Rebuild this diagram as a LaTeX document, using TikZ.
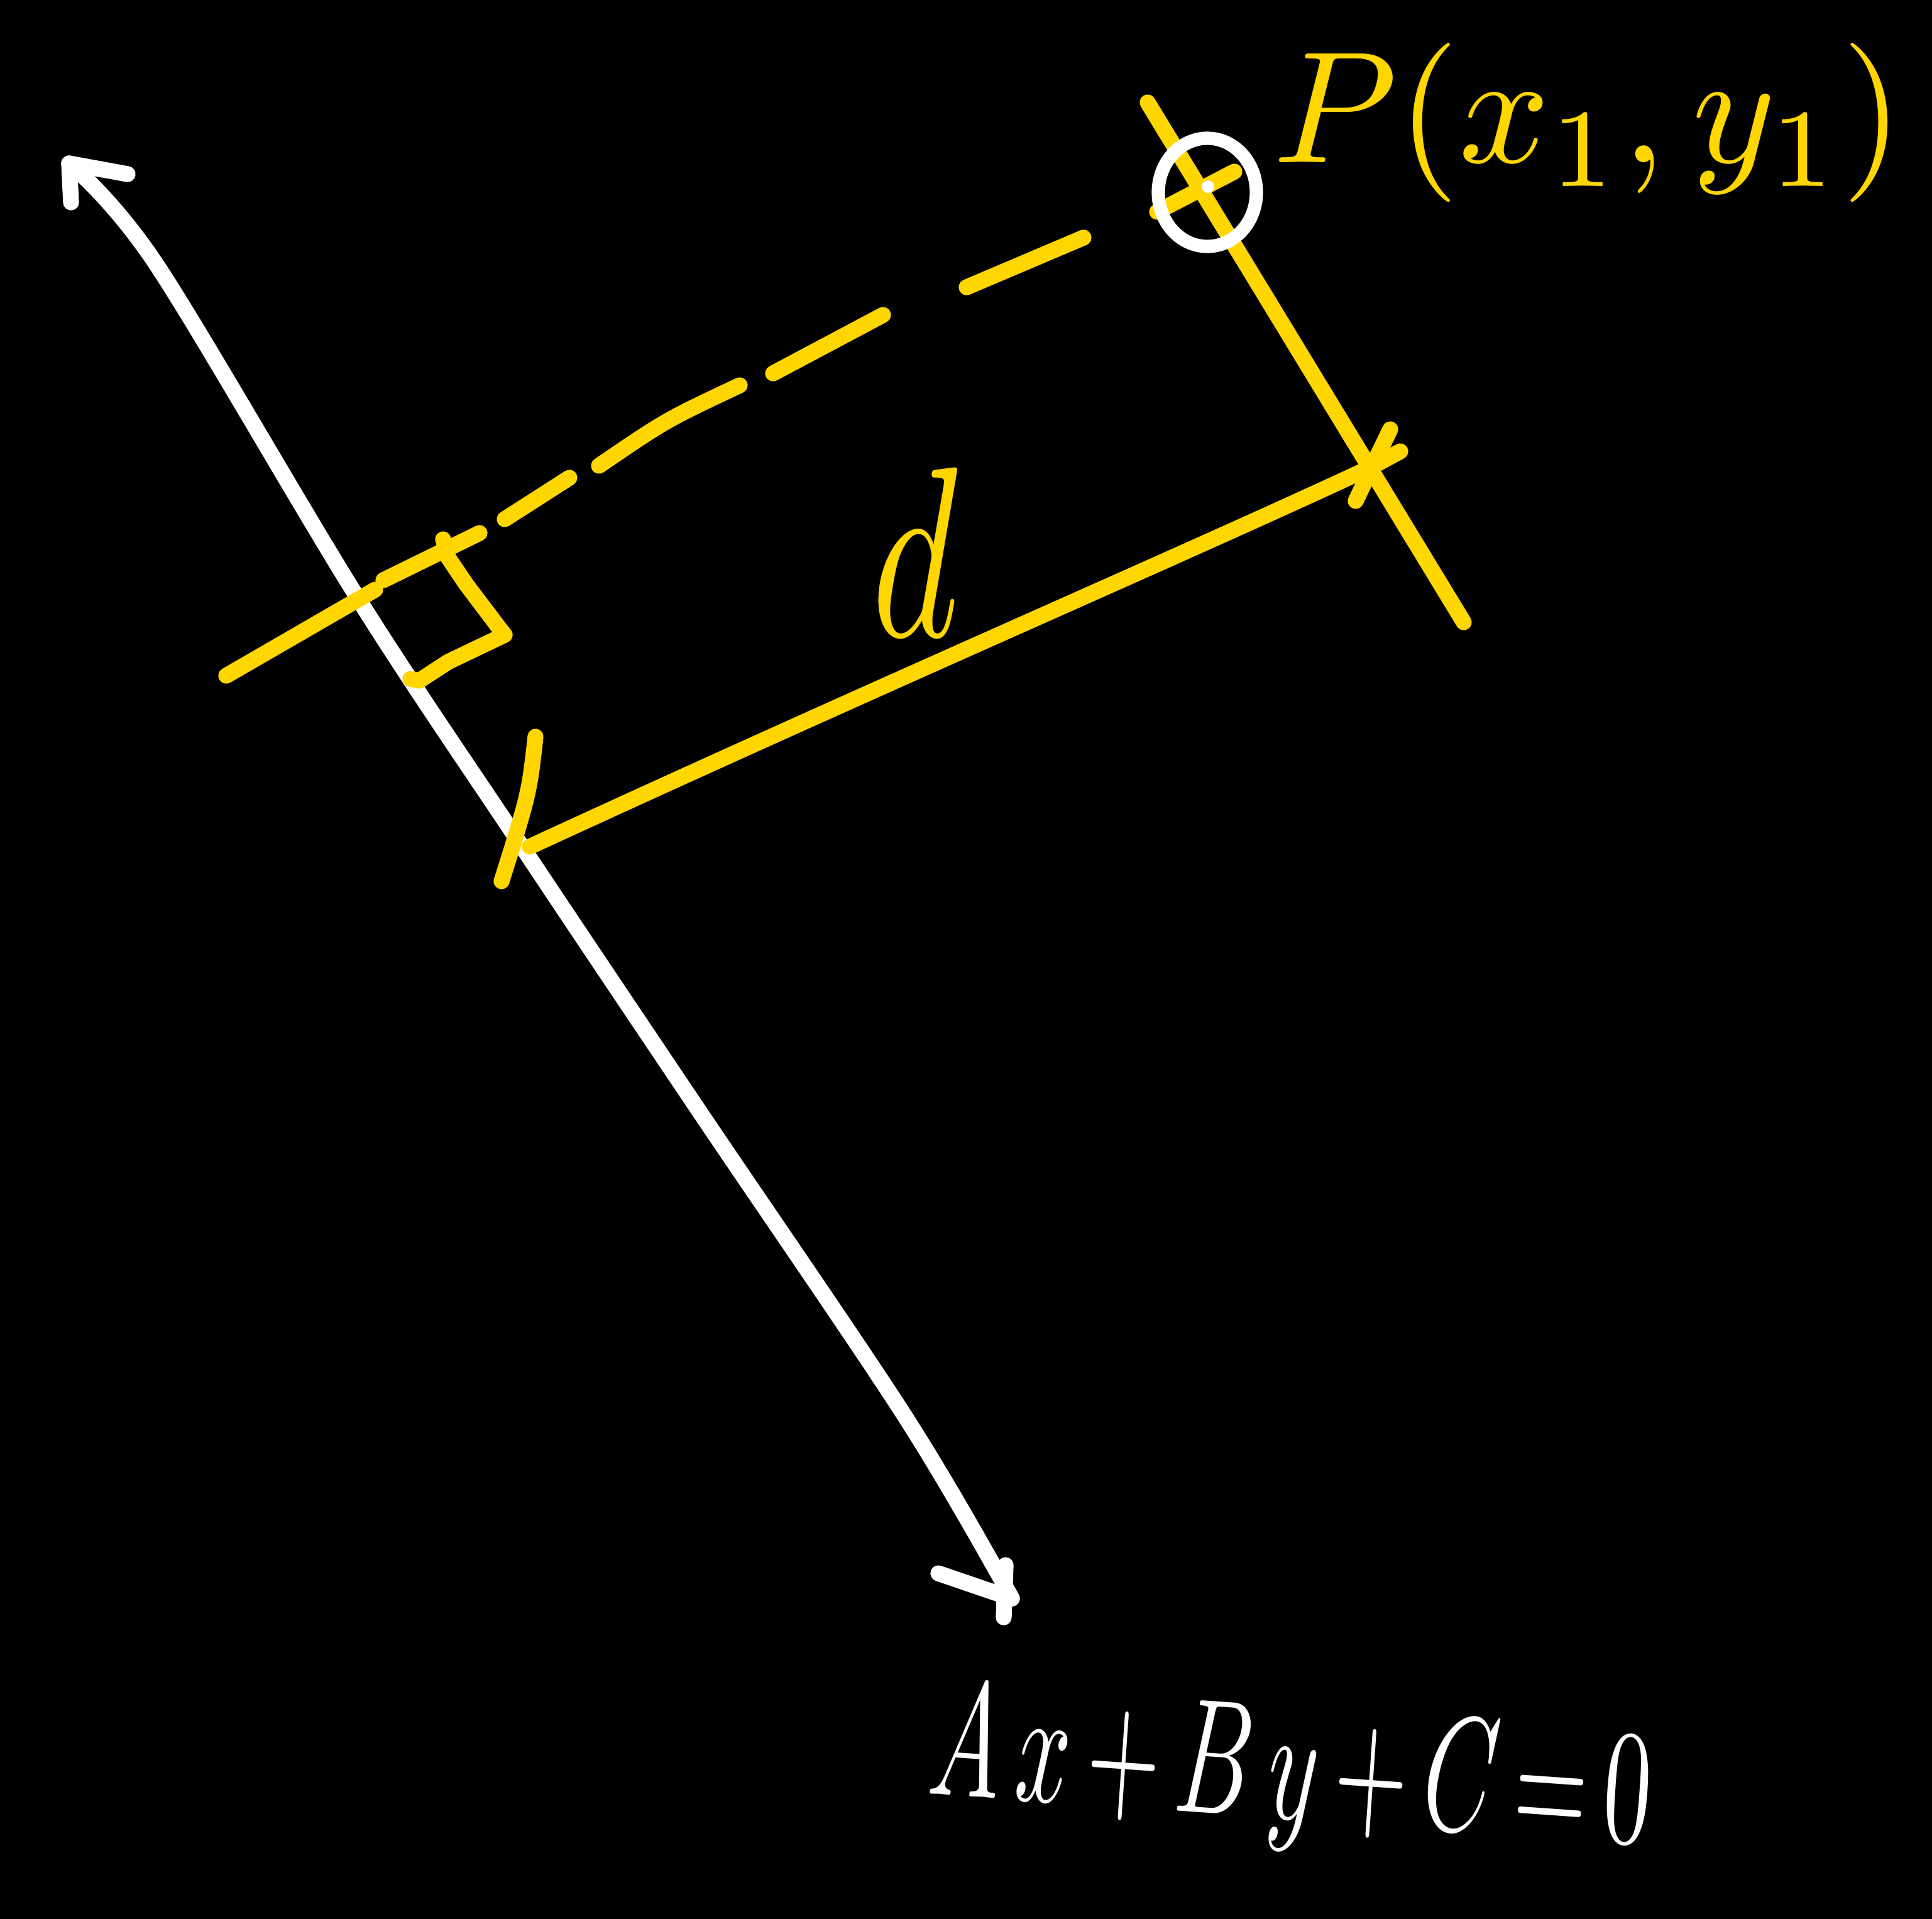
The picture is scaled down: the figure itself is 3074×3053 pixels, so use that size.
\documentclass[tikz,border=0pt]{standalone}
\usepackage{graphicx}
\definecolor{chalkyellow}{RGB}{255,214,0}
\begin{document}
\begin{tikzpicture}[x={(0.01cm,0)}, y={(0,-0.01cm)},
  pen/.style={line width=7.2pt, line cap=round, line join=round},
  wpen/.style={pen, white},
  ypen/.style={pen, chalkyellow}]
\fill[black] (0,0) rectangle (3074,3053);
\useasboundingbox (0,0) rectangle (3074,3053);

% key points
\coordinate (Ltop) at (110,260);
\coordinate (Lbot) at (1610,2543);
\coordinate (P) at (1922,297);
\coordinate (Dl) at (843,1347);
\coordinate (Dr) at (2182,743);

% the white line Ax+By+C=0
\draw[wpen] plot[smooth, tension=0.55] coordinates {(Ltop) (249,421) (569,951) (828,1343) (1110,1764) (1441,2255) (Lbot)};
\draw[wpen] (203,277) -- (Ltop) -- (113,322);
\draw[wpen] (1493,2503) -- (Lbot);
\draw[wpen] (1600,2490) -- (1597,2573);

% yellow line through P, parallel to the white line
\draw[ypen] (1826,163) -- (2329,990);

% dashed perpendicular from P to the line
\draw[ypen] (1841,337) -- (1964,273);
\draw[ypen] (1724,378) -- (1538,457);
\draw[ypen] (1405,501) -- (1230,594);
\draw[ypen] (1177,613) .. controls (1060,668) .. (953,741);
\draw[ypen] (906,760) -- (803,826);
\draw[ypen] (763,848) -- (610,923);
\draw[ypen] (597,938) -- (360,1075);

% right-angle mark
\draw[ypen] (705,858) -- (713,887) -- (742,930) -- (795,1000) -- (803,1010) -- (713,1053) -- (667,1083) -- (653,1080);

% distance d
\draw[ypen] (Dl) .. controls (1400,1090) and (1900,875) .. (Dr) -- (2228,718);
\draw[ypen] (852,1172) .. controls (842,1262) .. (798,1402);
\draw[ypen] (2157,797) -- (2212,683);

% point P
\draw[white, line width=6pt] (1921,306) ellipse [x radius=0.78cm, y radius=0.86cm];
\fill[white] (P) circle [radius=0.1cm];

% labels
\node[text=chalkyellow, anchor=west, inner sep=0] (lblP) at (2025,195) {\scalebox{7.2}{$P(x_1, y_1)$}};
\node[text=chalkyellow, inner sep=0] (lblD) at (1456,878) {\scalebox{7.5}[11]{$d$}};
\node[text=white, inner sep=0, rotate=-4] (lblEq) at (2053,2830) {\scalebox{4.3}[7.4]{$A\,x\,{+}\,B\,y\,{+}\,C\,{=}\,0$}};
\end{tikzpicture}
\end{document}
